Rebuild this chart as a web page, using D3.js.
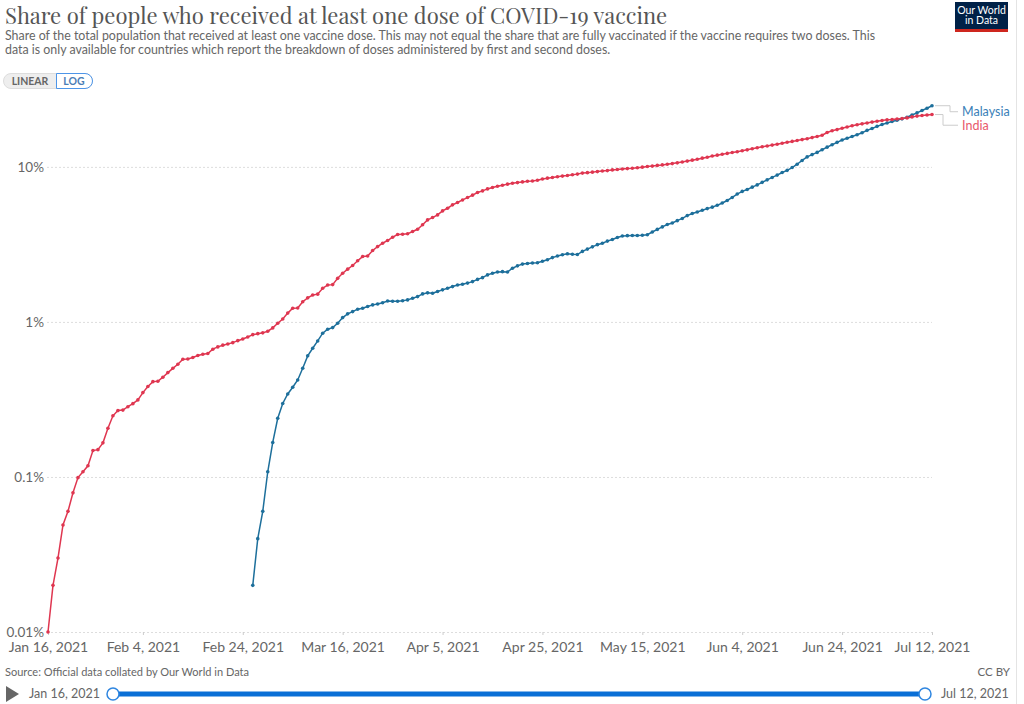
<!DOCTYPE html>
<html>
<head>
<meta charset="utf-8">
<script src="https://cdn.jsdelivr.net/npm/d3@7"></script>
<style>
  body { margin: 0; background: #fff; }
  svg { display: block; font-family: Lato, "Noto Sans", sans-serif; }
</style>
</head>
<body>
<svg id="drawing_region"></svg>
<script>
// Share of population with at least one dose (%), one value per day
const indiaStart = "2021-01-16";
const indiaValues = [
  0.01, 0.02, 0.03, 0.049, 0.06, 0.079, 0.099, 0.108, 0.118, 0.148,
  0.15, 0.166, 0.206, 0.248, 0.268, 0.27, 0.284, 0.297, 0.314, 0.35,
  0.383, 0.412, 0.414, 0.44, 0.471, 0.502, 0.533, 0.574, 0.576, 0.589,
  0.607, 0.619, 0.625, 0.667, 0.69, 0.708, 0.72, 0.735, 0.757, 0.776,
  0.80, 0.828, 0.84, 0.85, 0.871, 0.915, 0.98, 1.045, 1.14, 1.225,
  1.23, 1.35, 1.43, 1.49, 1.51, 1.65, 1.73, 1.74, 1.91, 2.06,
  2.19, 2.31, 2.48, 2.64, 2.66, 2.89, 3.06, 3.22, 3.35, 3.52,
  3.66, 3.68, 3.70, 3.83, 3.96, 4.23, 4.55, 4.71, 4.90, 5.20,
  5.41, 5.69, 5.89, 6.12, 6.34, 6.57, 6.83, 7.0, 7.21, 7.36,
  7.50, 7.62, 7.74, 7.84, 7.92, 8.00, 8.08, 8.10, 8.20, 8.35,
  8.46, 8.55, 8.63, 8.72, 8.80, 8.90, 8.98, 9.12, 9.18, 9.25,
  9.32, 9.40, 9.46, 9.56, 9.62, 9.68, 9.75, 9.80, 9.88, 9.96,
  10.05, 10.12, 10.22, 10.30, 10.40, 10.50, 10.62, 10.75, 10.90, 11.05,
  11.20, 11.38, 11.55, 11.75, 11.90, 12.05, 12.22, 12.38, 12.52, 12.70,
  12.88, 13.10, 13.30, 13.48, 13.65, 13.82, 14.00, 14.20, 14.42, 14.60,
  14.80, 15.00, 15.20, 15.45, 15.70, 16.00, 16.65, 17.10, 17.40, 17.75,
  18.10, 18.40, 18.70, 18.95, 19.20, 19.45, 19.70, 19.90, 20.10, 20.20,
  20.35, 20.50, 20.70, 21.00, 21.25, 21.45, 21.60, 21.75
];
const malaysiaStart = "2021-02-26";
const malaysiaValues = [
  0.02, 0.04, 0.06, 0.108, 0.167, 0.239, 0.298, 0.343, 0.379, 0.422,
  0.503, 0.604, 0.676, 0.754, 0.846, 0.897, 0.919, 0.98, 1.066, 1.127,
  1.166, 1.208, 1.226, 1.256, 1.288, 1.306, 1.33, 1.365, 1.36, 1.36,
  1.37, 1.387, 1.42, 1.456, 1.516, 1.54, 1.53, 1.57, 1.61, 1.65,
  1.69, 1.73, 1.75, 1.78, 1.82, 1.88, 1.93, 2.01, 2.06, 2.10,
  2.11, 2.10, 2.22, 2.30, 2.36, 2.38, 2.40, 2.41, 2.46, 2.52,
  2.60, 2.66, 2.71, 2.75, 2.73, 2.72, 2.85, 2.95, 3.05, 3.15,
  3.22, 3.32, 3.40, 3.50, 3.58, 3.60, 3.61, 3.61, 3.62, 3.65,
  3.80, 3.95, 4.10, 4.25, 4.35, 4.50, 4.65, 4.85, 5.00, 5.12,
  5.25, 5.38, 5.50, 5.65, 5.85, 6.07, 6.35, 6.68, 6.95, 7.15,
  7.40, 7.65, 7.95, 8.25, 8.55, 8.85, 9.20, 9.50, 9.90, 10.40,
  11.00, 11.60, 12.00, 12.40, 12.90, 13.40, 13.90, 14.40, 14.90, 15.30,
  15.70, 16.10, 16.60, 17.20, 17.70, 18.25, 18.75, 19.20, 19.60, 20.00,
  20.40, 20.90, 21.60, 22.30, 23.10, 23.90, 24.80
];
const xTickDates = ["2021-01-16", "2021-02-04", "2021-02-24", "2021-03-16", "2021-04-05",
  "2021-04-25", "2021-05-15", "2021-06-04", "2021-06-24", "2021-07-12"];
const xTickLabels = ["Jan 16, 2021", "Feb 4, 2021", "Feb 24, 2021", "Mar 16, 2021", "Apr 5, 2021",
  "Apr 25, 2021", "May 15, 2021", "Jun 4, 2021", "Jun 24, 2021", "Jul 12, 2021"];
const yTickValues = [0.01, 0.1, 1, 10];
const yTickLabels = ["0.01%", "0.1%", "1%", "10%"];
const seriesNames = ["Malaysia", "India"];

const parse = d3.utcParse("%Y-%m-%d");
const toSeries = (start, values) =>
  values.map((v, i) => ({ date: d3.utcDay.offset(parse(start), i), value: v }));

const series = [
  { name: seriesNames[0], color: "#1d6f9b", label: "#3a7fb8", knee: 950, data: toSeries(malaysiaStart, malaysiaValues) },
  { name: seriesNames[1], color: "#df3650", label: "#e8596c", knee: 943, data: toSeries(indiaStart, indiaValues) }
];

class LineChart {
  constructor(config, series) {
    this.config = config;
    this.series = series;
    this.init();
  }
  init() {
    let self = this;
    self.svg = d3.select(self.config.parent)
      .attr('width', self.config.width).attr('height', self.config.height);
    self.xscale = d3.scaleUtc()
      .domain([parse(xTickDates[0]), parse(xTickDates[xTickDates.length - 1])])
      .range([self.config.left, self.config.right]);
    self.yscale = d3.scaleLog()
      .domain([0.01, 27])
      .range([self.config.bottom, self.config.top]);
    self.render();
  }
  render() {
    let self = this;
    const svg = self.svg;

    // header
    svg.append('text').attr('x', 5).attr('y', 24)
      .attr('font-family', '"Playfair Display", "Liberation Serif", serif')
      .attr('font-size', 22).attr('fill', '#555')
      .text('Share of people who received at least one dose of COVID-19 vaccine');
    const sub = [
      'Share of the total population that received at least one vaccine dose. This may not equal the share that are fully vaccinated if the vaccine requires two doses. This',
      'data is only available for countries which report the breakdown of doses administered by first and second doses.'
    ];
    svg.selectAll('.sub').data(sub).join('text')
      .attr('x', 5).attr('y', (d, i) => 40 + i * 14)
      .attr('font-size', 12.4).attr('fill', '#666').text(d => d);

    // linear / log toggle
    const tg = svg.append('g');
    tg.append('rect').attr('x', 3.5).attr('y', 73.5).attr('width', 89).attr('height', 15)
      .attr('rx', 7.5).attr('fill', '#eee').attr('stroke', '#ddd');
    tg.append('path')
      .attr('d', 'M56.5,73.5 H85 A7.5,7.5 0 0 1 85,88.5 H56.5 Z')
      .attr('fill', '#fff').attr('stroke', '#4d95e8');
    tg.append('text').attr('x', 30).attr('y', 85).attr('text-anchor', 'middle')
      .attr('font-size', 10.5).attr('font-weight', 700).attr('fill', '#666').text('LINEAR');
    tg.append('text').attr('x', 74).attr('y', 85).attr('text-anchor', 'middle')
      .attr('font-size', 10.5).attr('font-weight', 700).attr('fill', '#4b7db5').text('LOG');

    // logo
    svg.append('rect').attr('x', 955).attr('y', 2).attr('width', 53).attr('height', 28).attr('fill', '#002147');
    svg.append('rect').attr('x', 955).attr('y', 29).attr('width', 53).attr('height', 3).attr('fill', '#ce261e');
    svg.selectAll('.logo').data(['Our World', 'in Data']).join('text')
      .attr('x', 981.5).attr('y', (d, i) => 14 + i * 10).attr('text-anchor', 'middle')
      .attr('font-size', 10.5).attr('fill', '#fff').text(d => d);

    // frame line at right
    svg.append('line').attr('x1', 1016.5).attr('x2', 1016.5).attr('y1', 0).attr('y2', 704)
      .attr('stroke', '#e4e4e4');

    // y grid + labels
    const yaxis = d3.axisLeft(self.yscale).tickValues(yTickValues)
      .tickFormat((d, i) => yTickLabels[i])
      .tickSize(-(self.config.right - self.config.left + 1)).tickPadding(3);
    const yg = svg.append('g').attr('transform', `translate(${self.config.left - 1},0)`).call(yaxis);
    yg.select('.domain').remove();
    yg.selectAll('line').attr('stroke', '#ddd').attr('stroke-dasharray', '2,2');
    yg.selectAll('text').attr('font-size', 13.5).attr('fill', '#666').attr('font-family', 'Lato, sans-serif');

    // x axis
    const xaxis = d3.axisBottom(self.xscale)
      .tickValues(xTickDates.map(parse))
      .tickFormat((d, i) => xTickLabels[i])
      .tickSize(3).tickPadding(7);
    const xg = svg.append('g').attr('transform', `translate(0,${self.config.bottom})`).call(xaxis);
    xg.select('.domain').remove();
    xg.selectAll('line').attr('stroke', '#ccc');
    xg.selectAll('text').attr('font-size', 14).attr('fill', '#666').attr('font-family', 'Lato, sans-serif');

    // lines + points
    const line = d3.line().x(d => self.xscale(d.date)).y(d => self.yscale(d.value));
    self.series.forEach(s => {
      const g = svg.append('g');
      g.append('path').attr('d', line(s.data)).attr('fill', 'none')
        .attr('stroke', s.color).attr('stroke-width', 1.5);
      g.selectAll('circle').data(s.data).join('circle')
        .attr('cx', d => self.xscale(d.date)).attr('cy', d => self.yscale(d.value))
        .attr('r', 1.8).attr('fill', s.color);
    });

    // end labels with connectors
    const ends = self.series.map(s => s.data[s.data.length - 1]);
    let labelY = [self.yscale(ends[0].value) + 6];
    labelY.push(labelY[0] + 13.5);
    self.series.forEach((s, i) => {
      const ex = self.xscale(ends[i].date) + 3, ey = self.yscale(ends[i].value);
      svg.append('path')
        .attr('d', `M${ex},${ey} H${s.knee} V${labelY[i]} H${958}`)
        .attr('fill', 'none').attr('stroke', '#ccc');
      svg.append('text').attr('x', 962).attr('y', labelY[i]).attr('dy', '0.35em')
        .attr('font-size', 12.5).attr('fill', s.label).text(s.name);
    });

    // footer
    svg.append('text').attr('x', 5).attr('y', 676).attr('font-size', 11.5).attr('fill', '#666')
      .attr('textLength', 244).attr('lengthAdjust', 'spacingAndGlyphs')
      .text('Source: Official data collated by Our World in Data');
    svg.append('text').attr('x', 1010).attr('y', 676).attr('text-anchor', 'end')
      .attr('font-size', 11.5).attr('fill', '#666').text('CC BY');

    // timeline
    svg.append('path').attr('d', 'M6,686 L19,694 L6,702 Z').attr('fill', '#666');
    svg.append('text').attr('x', 29).attr('y', 694).attr('dy', '0.35em')
      .attr('font-size', 12.5).attr('fill', '#666').text(xTickLabels[0]);
    svg.append('line').attr('x1', 113).attr('x2', 925).attr('y1', 694).attr('y2', 694)
      .attr('stroke', '#0a6fd6').attr('stroke-width', 5);
    [113, 925].forEach(cx => {
      svg.append('circle').attr('cx', cx).attr('cy', 694).attr('r', 6)
        .attr('fill', '#fff').attr('stroke', '#2f86e0').attr('stroke-width', 1.5);
    });
    svg.append('text').attr('x', 941).attr('y', 694).attr('dy', '0.35em')
      .attr('font-size', 12.5).attr('fill', '#666').text(xTickLabels[xTickLabels.length - 1]);
  }
}

const config = { parent: '#drawing_region', width: 1024, height: 704, left: 48, right: 932, top: 100, bottom: 632 };
const chart = new LineChart(config, series);
</script>
</body>
</html>
